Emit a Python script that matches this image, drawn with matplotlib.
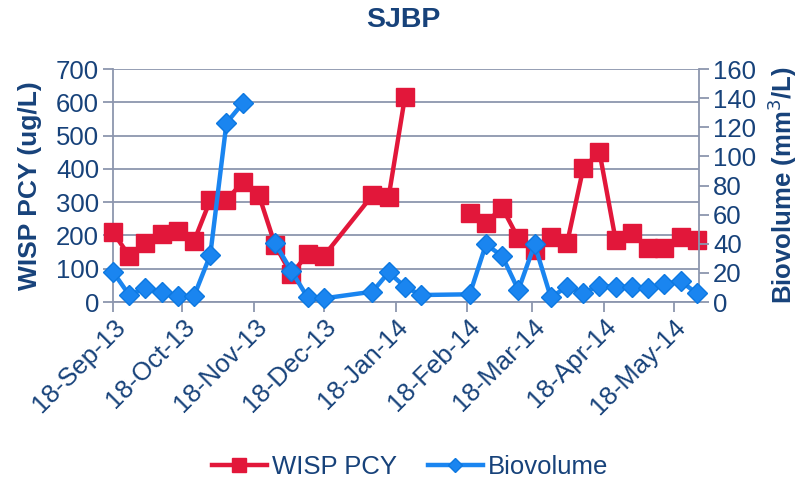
import numpy as np
import pandas as pd
import matplotlib
matplotlib.use("Agg")
import matplotlib.pyplot as plt
import matplotlib.dates as mdates

dates = pd.to_datetime([
    "2013-09-18", "2013-09-25", "2013-10-02", "2013-10-09", "2013-10-16",
    "2013-10-23", "2013-10-30", "2013-11-06", "2013-11-13", "2013-11-20",
    "2013-11-27", "2013-12-04", "2013-12-11", "2013-12-18",
    "2014-01-08", "2014-01-15", "2014-01-22", "2014-01-29",
    "2014-02-19", "2014-02-26", "2014-03-05", "2014-03-12", "2014-03-19",
    "2014-03-26", "2014-04-02", "2014-04-09", "2014-04-16", "2014-04-23",
    "2014-04-30", "2014-05-07", "2014-05-14", "2014-05-21", "2014-05-28",
])
wisp_pcy = [210, 139, 176, 204, 213, 183, 306, 306, 361, 321, 171, 83, 144, 138,
            321, 316, 615, np.nan,
            266, 238, 284, 191, 156, 196, 176, 402, 451, 186, 208, 161, 161, 196, 186]
biovolume = [20.8, 4.8, 9.4, 7.1, 4.1, 4.1, 32.3, 123, 136.5, np.nan, 40.3, 21.5, 3.2, 2.5,
             7.1, 20.4, 10.5, 4.8,
             5.3, 39.6, 31.6, 8.2, 39.6, 3.2, 10.5, 6.4, 11.2, 10.5, 10.5, 9.4, 12.4, 14.4, 6.0]
tick_dates = pd.to_datetime([
    "2013-09-18", "2013-10-18", "2013-11-18", "2013-12-18", "2014-01-18",
    "2014-02-18", "2014-03-18", "2014-04-18", "2014-05-18",
])

txt = "#17427A"
grid_c = "#8C96AE"
red = "#E2173A"
blue = "#1A85F0"
plt.rcParams["font.family"] = ["Liberation Sans", "DejaVu Sans"]

fig = plt.figure(figsize=(8.04, 4.83), dpi=100)
ax = fig.add_axes([0.1405, 0.3747, 0.729, 0.4823])
ax2 = ax.twinx()

ax.plot(dates, wisp_pcy, color=red, lw=3.2, marker="s", ms=13, mfc=red, mec=red,
        label="WISP PCY", zorder=3, clip_on=False)
ax2.plot(dates, biovolume, color=blue, lw=3.2, marker="D", ms=10, mfc=blue, mec="#0D78E0",
         label="Biovolume", zorder=3, clip_on=False)

ax.set_ylim(0, 700)
ax.set_yticks(np.arange(0, 701, 100))
ax2.set_ylim(0, 160)
ax2.set_yticks(np.arange(0, 161, 20))
ax.set_xlim(pd.Timestamp("2013-09-18"), pd.Timestamp("2014-05-29"))
ax.set_xticks(tick_dates)
ax.xaxis.set_major_formatter(mdates.DateFormatter("%d-%b-%y"))

ax.grid(axis="y", color=grid_c, lw=1.3)
ax.set_axisbelow(True)
for a in (ax, ax2):
    for s in a.spines.values():
        s.set_visible(False)
    a.tick_params(colors=grid_c, labelcolor=txt, labelsize=18.5, width=1.3, length=7)
ax.spines["left"].set_visible(True)
ax.spines["bottom"].set_visible(True)
ax2.spines["right"].set_visible(True)
for s in (ax.spines["left"], ax.spines["bottom"], ax2.spines["right"]):
    s.set_color(grid_c)
    s.set_linewidth(1.3)
ax.tick_params(axis="y", pad=3)
ax2.tick_params(axis="y", pad=3)
plt.setp(ax.get_xticklabels(), rotation=45, ha="right", rotation_mode="anchor")
ax.tick_params(axis="x", pad=2)

ax.set_ylabel("WISP PCY (ug/L)", color=txt, fontsize=19, fontweight="bold", labelpad=10)
ax2.set_ylabel("Biovolume (mm$^3$/L)", color=txt, fontsize=18.5, fontweight="bold",
               rotation=90, labelpad=7)
fig.suptitle("SJBP", x=0.502, y=0.985, color=txt, fontsize=20.5, fontweight="bold")

h1, l1 = ax.get_legend_handles_labels()
h2, l2 = ax2.get_legend_handles_labels()
fig.legend(h1 + h2, l1 + l2, loc="center", bbox_to_anchor=(0.51, 0.033), ncol=2,
           frameon=False, fontsize=18.5, labelcolor=txt, handlelength=2.15,
           handletextpad=0.2, columnspacing=1.2, markerscale=0.75)

fig.savefig("out.png", dpi=100)
